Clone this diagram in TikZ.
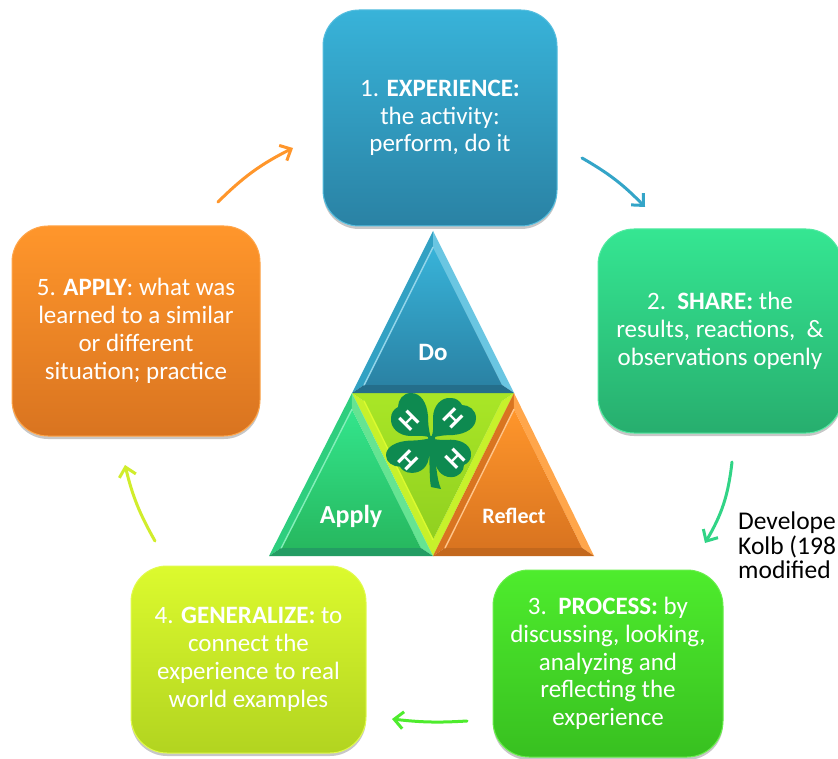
\documentclass[tikz,border=0pt]{standalone}
\usepackage{fontspec}
\setmainfont{Carlito}
\usetikzlibrary{arrows.meta,calc,shadows}
\definecolor{bA}{HTML}{38B3D9}\definecolor{bB}{HTML}{2A82A4}
\definecolor{gA}{HTML}{35E692}\definecolor{gB}{HTML}{27AE6E}
\definecolor{lA}{HTML}{4EEC2D}\definecolor{lB}{HTML}{38C020}
\definecolor{yA}{HTML}{DCFA2E}\definecolor{yB}{HTML}{B2D420}
\definecolor{oA}{HTML}{FF962B}\definecolor{oB}{HTML}{D97420}
\definecolor{cA}{HTML}{A8E526}\definecolor{cB}{HTML}{90D020}
\definecolor{pA}{HTML}{33E58C}\definecolor{pB}{HTML}{27B85F}
\definecolor{cloverc}{HTML}{0E8A50}
\tikzset{
  x=1pt,y=-1pt,
  stagebox/.style n args={4}{rounded corners=36pt,minimum width=#1pt,minimum height=#2pt,inner sep=0pt,
    top color=#3,bottom color=#4,draw=#3!85!white,line width=1pt,text=white,align=center,
    font=\fontsize{25}{27.8}\selectfont,
    drop shadow={shadow xshift=0pt,shadow yshift=-3pt,opacity=.22,fill=black}},
  cyc/.style={line width=3pt,-{Straight Barb[length=9pt,width=17pt,line width=3pt]},line cap=round},
  trilabel/.style={text=white,font=\bfseries\fontsize{#1}{#1}\selectfont},
  hmark/.style={text=white,font=\bfseries\fontsize{26}{26}\selectfont,inner sep=0pt}
}
% corners A B C; left facet, right facet, base facet, inner top, inner bottom, highlight
\newcommand{\bevtri}[9]{%
  \coordinate (G) at ($1/3*(#1)+1/3*(#2)+1/3*(#3)$);
  \coordinate (IA) at ($(#1)!0.15!(G)$);
  \coordinate (IB) at ($(#2)!0.15!(G)$);
  \coordinate (IC) at ($(#3)!0.15!(G)$);
  \fill[#4] (#1)--(#2)--(IB)--(IA)--cycle;
  \fill[#5] (#1)--(#3)--(IC)--(IA)--cycle;
  \fill[#6] (#2)--(#3)--(IC)--(IB)--cycle;
  \shade[top color=#7,bottom color=#8] (IA)--(IB)--(IC)--cycle;
  \draw[#9,line width=1.4pt,line cap=round] (IB)--(IA);
}
\newcommand{\cloverleaf}[2]{%
  \begin{scope}[shift={(431,438)},yscale=#2,rotate=#1]
    \fill[cloverc] (0,0) .. controls (3,-6) and (2,-12) .. (2,-20)
      .. controls (2,-32) and (10,-41) .. (20,-40)
      .. controls (25,-40) and (29,-37) .. (31,-33)
      .. controls (38,-33) and (45,-28) .. (45,-20)
      .. controls (45,-10) and (35,-4) .. (22,-3)
      .. controls (14,-3) and (6,-2) .. (0,0) -- cycle;
  \end{scope}
}
\begin{document}
\begin{tikzpicture}
\useasboundingbox (0,0) rectangle (838,759);
\clip (0,0) rectangle (838,759);
\fill[white] (0,0) rectangle (838,759);

\node[stagebox={234}{216}{bA}{bB}] (n1) at (440,118) {1. \textbf{EXPERIENCE:}\\the activity:\\perform, do it};
\node[stagebox={244}{204}{gA}{gB}] (n2) at (720,331) {2.\ \ \textbf{SHARE:} the\\results, reactions,\ \ \&\\observations openly};
\node[stagebox={230}{187}{lA}{lB}] (n3) at (608,663.5) {3.\ \ \textbf{PROCESS:} by\\discussing, looking,\\analyzing and\\reflecting the\\experience};
\node[stagebox={235}{187}{yA}{yB}] (n4) at (248.5,659.5) {4. \textbf{GENERALIZE:} to\\connect the\\experience to real\\world examples};
\node[stagebox={248}{210}{oA}{oB}] (n5) at (136,331) {5. \textbf{APPLY}: what was\\learned to a similar\\or different\\situation; practice};

\coordinate (a1s) at (582,158); \coordinate (a1e) at (645,207);
\coordinate (a2s) at (732,462); \coordinate (a2e) at (705,543);
\coordinate (a3s) at (467,721); \coordinate (a3e) at (392,719);
\coordinate (a4s) at (155,541); \coordinate (a4e) at (125,465);
\coordinate (a5s) at (218,202); \coordinate (a5e) at (293,148);
\draw[cyc,color=bA!92!black] (a1s) to[bend left=8] (a1e);
\draw[cyc,color=gA!92!black] (a2s) to[bend left=12] (a2e);
\draw[cyc,color=lA] (a3s) to[bend left=5] (a3e);
\draw[cyc,color=yA!95!black] (a4s) to[bend left=8] (a4e);
\draw[cyc,color=oA] (a5s) to[bend left=9] (a5e);

% triangles
\coordinate (ta) at (433,231); \coordinate (tb) at (352,393); \coordinate (tc) at (514,393);
\coordinate (ub) at (433,556); \coordinate (pb) at (269,556); \coordinate (rb) at (594,556);
\bevtri{ub}{tb}{tc}{yA!60!cA}{yA!60!cA}{cA}{cA}{cB}{yA}
\bevtri{ta}{tb}{tc}{bA!90!black}{bA!75!white}{bB!85!black}{bA}{bB}{bA!55!white}
\bevtri{tb}{pb}{ub}{pA!90!black}{pA!70!white!80!lB}{gB!90!black}{pA}{pB}{pA!60!white}
\bevtri{tc}{ub}{rb}{oB}{oA!85!white}{oB!90!black}{oA}{oB}{oA!55!white}
\node[trilabel=25] (tdo) at (433,352) {Do};
\node[trilabel=26] (tap) at (351,516) {Apply};
\node[trilabel=22] (tre) at (514,516) {Reflect};

% clover
\cloverleaf{0}{1}\cloverleaf{90}{1}\cloverleaf{180}{0.87}\cloverleaf{270}{0.87}
\fill[cloverc] (428,436) .. controls (430,455) and (429,478) .. (431,487) -- (441,489)
  .. controls (436,478) and (435,455) .. (435,436) -- cycle;
\node[hmark,rotate=45] (h1) at (409,421) {H};
\node[hmark,rotate=-45] (h2) at (453,418) {H};
\node[hmark,rotate=-45] (h3) at (408,460) {H};
\node[hmark,rotate=45] (h4) at (455,459) {H};

\node[anchor=north west,inner sep=0pt,align=left,text=black,font=\fontsize{25.5}{24.5}\selectfont] (dev) at (738,512) {Develope\\Kolb (198\\modified};
\end{tikzpicture}
\end{document}
